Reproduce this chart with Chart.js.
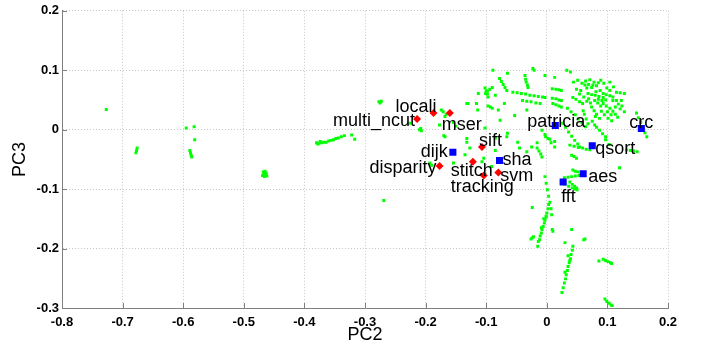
<!DOCTYPE html>
<html>
<head>
<meta charset="utf-8">
<title>PC2 vs PC3</title>
<script src="https://cdn.jsdelivr.net/npm/chart.js@4/dist/chart.umd.min.js"></script>
<style>
  html, body { margin: 0; padding: 0; background: #fff; }
  #wrap { width: 701px; height: 352px; }
</style>
</head>
<body>
<div id="wrap"><canvas id="pcaChart" width="701" height="352"></canvas></div>
<script>
// Labelled benchmarks (red diamonds)
const redNames = ['locali', 'mser', 'multi_ncut', 'sift', 'disparity', 'stitch', 'tracking', 'svm'];
const redPC2 = [-0.187, -0.160, -0.214, -0.107, -0.177, -0.122, -0.104, -0.080];
const redPC3 = [0.028, 0.028, 0.018, -0.029, -0.061, -0.054, -0.077, -0.072];

// Labelled benchmarks (blue squares)
const blueNames = ['dijk', 'sha', 'patricia', 'crc', 'qsort', 'aes', 'fft'];
const bluePC2 = [-0.155, -0.078, 0.014, 0.156, 0.075, 0.060, 0.027];
const bluePC3 = [-0.038, -0.052, 0.007, 0.002, -0.027, -0.074, -0.088];

// Unlabelled samples, [PC2, PC3], grouped by area
const farClusters = [
    [-0.727, 0.034],
    [-0.676, -0.031], [-0.677, -0.035], [-0.678, -0.039],
    [-0.589, -0.035], [-0.588, -0.039], [-0.587, -0.043], [-0.586, -0.046],
    [-0.595, 0.003], [-0.582, 0.005], [-0.581, -0.017],
    [-0.468, -0.071], [-0.465, -0.070], [-0.463, -0.073], [-0.467, -0.075],
    [-0.464, -0.076], [-0.466, -0.079], [-0.462, -0.078], [-0.469, -0.077],
    [-0.380, -0.022], [-0.378, -0.024], [-0.376, -0.023], [-0.374, -0.020],
    [-0.372, -0.022], [-0.368, -0.021], [-0.364, -0.021], [-0.360, -0.019],
    [-0.356, -0.018], [-0.352, -0.017], [-0.348, -0.015], [-0.344, -0.014],
    [-0.339, -0.012], [-0.334, -0.010], [-0.322, -0.009], [-0.317, -0.016]
];

const midPoints = [
    [-0.277, 0.047], [-0.273, 0.048], [-0.275, 0.045], [-0.269, -0.119],
    [-0.174, 0.033], [-0.171, 0.030], [-0.168, 0.022], [-0.166, 0.026],
    [-0.226, 0.011], [-0.210, 0.000], [-0.207, -0.002], [-0.208, 0.002],
    [-0.177, 0.008], [-0.168, -0.012], [-0.170, -0.010],
    [-0.154, 0.012], [-0.150, 0.006],
    [-0.132, -0.015], [-0.135, -0.042], [-0.154, -0.056], [-0.193, -0.056],
    [-0.190, -0.060], [-0.127, -0.031], [-0.132, 0.044], [-0.116, 0.044]
];

const upperCore = [
    [-0.101, 0.061], [-0.098, 0.065], [-0.094, 0.068], [-0.090, 0.071],
    [-0.023, 0.103], [-0.021, 0.100], [-0.089, 0.100], [-0.065, 0.095],
    [-0.036, 0.091], [-0.035, 0.085], [-0.034, 0.080], [-0.032, 0.075], [-0.031, 0.071],
    [-0.078, 0.086], [-0.075, 0.081], [-0.072, 0.076], [-0.069, 0.071], [-0.066, 0.066],
    [-0.102, 0.070], [-0.100, 0.065], [-0.098, 0.060], [-0.097, 0.055],
    [-0.056, 0.063], [-0.049, 0.062], [-0.042, 0.061], [-0.035, 0.060], [-0.028, 0.058],
    [-0.021, 0.057], [-0.014, 0.056], [-0.007, 0.055], [-0.003, 0.054],
    [-0.113, 0.061], [-0.085, 0.058],
    [0.009, 0.069], [0.015, 0.068], [0.020, 0.067], [0.024, 0.066],
    [-0.003, 0.091], [0.013, 0.088],
    [-0.040, 0.049], [-0.033, 0.048], [-0.026, 0.047], [-0.018, 0.045], [-0.011, 0.044],
    [-0.070, 0.044], [-0.097, 0.040], [-0.093, 0.038], [-0.090, 0.036],
    [0.009, 0.053], [0.015, 0.052], [0.020, 0.050], [0.024, 0.049],
    [0.010, 0.044], [0.015, 0.042], [0.020, 0.040], [0.024, 0.038],
    [-0.080, 0.033], [-0.033, 0.033], [-0.053, 0.024], [-0.114, 0.033],
    [-0.077, 0.016], [-0.102, 0.003], [-0.065, -0.006], [-0.085, -0.014],
    [-0.048, -0.021], [-0.016, -0.022],
    [-0.008, -0.001], [-0.003, -0.008], [0.002, -0.015], [0.007, -0.022], [0.013, -0.029],
    [-0.002, -0.012], [0.005, -0.016], [0.013, -0.020],
    [-0.130, 0.044], [-0.132, -0.021], [-0.025, -0.029],
    [-0.066, -0.012], [-0.085, -0.035], [-0.107, -0.054], [-0.091, -0.062], [-0.104, -0.048]
];

const rightBlob = [
    [0.033, 0.100], [0.039, 0.097],
    [0.063, 0.075], [0.069, 0.076], [0.076, 0.075], [0.082, 0.074], [0.066, 0.070], [0.074, 0.071],
    [0.068, 0.061], [0.074, 0.059], [0.080, 0.058], [0.086, 0.056], [0.093, 0.054],
    [0.043, 0.054], [0.048, 0.051], [0.054, 0.047], [0.059, 0.044],
    [0.093, 0.061], [0.098, 0.059], [0.104, 0.057], [0.109, 0.055],
    [0.115, 0.063], [0.121, 0.062], [0.128, 0.061],
    [0.109, 0.049], [0.115, 0.049], [0.123, 0.049],
    [0.093, 0.044], [0.098, 0.040], [0.104, 0.036], [0.109, 0.031], [0.113, 0.026],
    [0.117, 0.021], [0.100, 0.030], [0.106, 0.025],
    [0.074, 0.038], [0.078, 0.032], [0.082, 0.026], [0.087, 0.019], [0.080, 0.022],
    [0.060, 0.032], [0.062, 0.026], [0.065, 0.018], [0.068, 0.010], [0.064, 0.005],
    [0.026, 0.011], [0.031, 0.004], [0.036, -0.004], [0.041, -0.011], [0.046, -0.018],
    [0.051, -0.024], [0.054, -0.029],
    [0.082, 0.004], [0.087, -0.001], [0.092, -0.007], [0.097, -0.012],
    [0.148, 0.028], [0.151, 0.020], [0.155, 0.012], [0.159, 0.003], [0.162, -0.005], [0.165, -0.012],
    [0.097, -0.017], [0.103, -0.025],
    [0.044, 0.080], [0.051, 0.083], [0.056, 0.066], [0.049, 0.068], [0.089, 0.083],
    [0.094, 0.078], [0.104, 0.080], [0.110, 0.072], [0.084, 0.045], [0.089, 0.040],
    [0.121, 0.035], [0.128, 0.030], [0.069, 0.052], [0.054, 0.060],
    [0.058, 0.078], [0.064, 0.082], [0.071, 0.084], [0.078, 0.080], [0.085, 0.079],
    [0.099, 0.070], [0.104, 0.066], [0.088, 0.066], [0.081, 0.064], [0.061, 0.055],
    [0.066, 0.048], [0.072, 0.045], [0.079, 0.049], [0.085, 0.051], [0.091, 0.049],
    [0.097, 0.050], [0.118, 0.043], [0.124, 0.040], [0.113, 0.038], [0.090, 0.031],
    [0.095, 0.025], [0.101, 0.019], [0.107, 0.015], [0.075, 0.014], [0.079, 0.008],
    [0.058, 0.012], [0.052, 0.018], [0.047, 0.025], [0.040, 0.030], [0.034, 0.036]
];

const lowerCore = [
    [-0.016, -0.031], [-0.013, -0.036], [-0.010, -0.041], [-0.008, -0.046],
    [-0.033, -0.037], [-0.045, -0.031],
    [-0.003, -0.079], [-0.001, -0.090], [0.001, -0.101], [0.003, -0.112],
    [0.005, -0.122], [0.007, -0.133], [0.008, -0.143], [-0.024, -0.131],
    [0.038, -0.026], [0.045, -0.028], [0.052, -0.030], [0.059, -0.031], [0.065, -0.033], [0.071, -0.034],
    [0.041, -0.043], [0.045, -0.045], [0.049, -0.048],
    [0.120, -0.064],
    [0.132, -0.034], [0.138, -0.035], [0.143, -0.036], [0.149, -0.037],
    [0.029, -0.081], [0.035, -0.080], [0.041, -0.079], [0.047, -0.078], [0.053, -0.077], [0.059, -0.076],
    [0.043, -0.068], [0.047, -0.070], [0.051, -0.071],
    [0.038, -0.088], [0.042, -0.092], [0.046, -0.095], [0.049, -0.098],
    [0.024, -0.089], [0.030, -0.092], [0.036, -0.095], [0.042, -0.098], [0.047, -0.100], [0.050, -0.101]
];

const lowerStreaks = [
    [0.003, -0.126], [0.002, -0.133], [0.000, -0.140], [-0.001, -0.147], [-0.003, -0.152],
    [-0.004, -0.157], [-0.006, -0.163], [-0.008, -0.168], [-0.009, -0.174], [-0.011, -0.179],
    [-0.012, -0.185], [-0.014, -0.188], [-0.005, -0.150], [-0.001, -0.145], [-0.009, -0.165],
    [-0.024, -0.182], [-0.026, -0.184], [-0.022, -0.180], [-0.015, -0.196],
    [0.009, -0.168], [0.010, -0.171], [0.041, -0.168], [0.061, -0.185], [0.063, -0.184],
    [0.043, -0.196], [0.042, -0.203], [0.040, -0.210], [0.039, -0.217], [0.037, -0.224],
    [0.035, -0.230], [0.034, -0.237], [0.032, -0.244], [0.031, -0.251], [0.029, -0.258],
    [0.027, -0.266], [0.025, -0.274], [0.038, -0.220], [0.035, -0.212], [0.030, -0.240],
    [0.030, -0.190], [0.086, -0.221],
    [0.093, -0.218], [0.097, -0.220], [0.101, -0.222], [0.105, -0.224], [0.107, -0.225],
    [0.096, -0.285], [0.099, -0.289], [0.103, -0.292], [0.106, -0.295], [0.108, -0.296]
];

// Where each benchmark name sits relative to its marker: [dx, dy to baseline, align]
const labelPlacement = {
    locali: [3, -1, 'right'],
    mser: [-8, 17, 'left'],
    multi_ncut: [-2, 7, 'right'],
    sift: [-3, -1, 'left'],
    disparity: [-3, 7, 'right'],
    stitch: [-22, 14, 'left'],
    tracking: [-33, 17, 'left'],
    svm: [2, 9, 'left'],
    dijk: [-5, 5, 'right'],
    sha: [3, 4, 'left'],
    patricia: [-28, 1, 'left'],
    crc: [-12, 0, 'left'],
    qsort: [3, 8, 'left'],
    aes: [5, 8, 'left'],
    fft: [-2, 20, 'left']
};

const FONT = '"Liberation Sans", Arial, Helvetica, sans-serif';
const AXIS_GRAY = '#808080';

const toPoints = (xs, ys) => xs.map((x, i) => ({ x: x, y: ys[i] }));
const otherPoints = [].concat(farClusters, midPoints, upperCore, rightBlob, lowerCore, lowerStreaks)
    .map(p => ({ x: p[0], y: p[1] }));

// Small tick marks pointing into the plot, like the axes of the original figure
const inwardTicks = {
    id: 'inwardTicks',
    beforeDatasetsDraw(chart) {
        const { ctx, chartArea: a, scales: { x, y } } = chart;
        ctx.save();
        ctx.strokeStyle = AXIS_GRAY;
        ctx.lineWidth = 1;
        ctx.beginPath();
        x.ticks.forEach(t => {
            const px = Math.round(x.getPixelForValue(t.value)) + 0.5;
            ctx.moveTo(px, a.bottom);
            ctx.lineTo(px, a.bottom - 5);
        });
        y.ticks.forEach(t => {
            const py = Math.round(y.getPixelForValue(t.value)) + 0.5;
            ctx.moveTo(a.left, py);
            ctx.lineTo(a.left + 5, py);
        });
        ctx.stroke();
        ctx.restore();
    }
};

// Benchmark names next to the red and blue markers
const benchmarkLabels = {
    id: 'benchmarkLabels',
    afterDatasetsDraw(chart) {
        const ctx = chart.ctx;
        ctx.save();
        ctx.font = '18px ' + FONT;
        ctx.fillStyle = '#000';
        ctx.textBaseline = 'alphabetic';
        [[0, redNames], [1, blueNames]].forEach(([idx, names]) => {
            const meta = chart.getDatasetMeta(idx);
            meta.data.forEach((el, i) => {
                const place = labelPlacement[names[i]];
                ctx.textAlign = place[2];
                ctx.fillText(names[i], el.x + place[0], el.y + place[1]);
            });
        });
        ctx.restore();
    }
};

const tickFont = { family: FONT, size: 13, weight: 'bold' };

new Chart(document.getElementById('pcaChart'), {
    type: 'scatter',
    data: {
        datasets: [
            {
                label: 'red',
                data: toPoints(redPC2, redPC3),
                pointStyle: 'rectRot',
                radius: 4,
                backgroundColor: '#ff0000',
                borderWidth: 0,
                order: 0
            },
            {
                label: 'blue',
                data: toPoints(bluePC2, bluePC3),
                pointStyle: 'rect',
                radius: 5,
                backgroundColor: '#0000ff',
                borderWidth: 0,
                order: 0
            },
            {
                label: 'other',
                data: otherPoints,
                pointStyle: 'rect',
                radius: 2.1,
                backgroundColor: '#00ff00',
                borderWidth: 0,
                order: 2
            }
        ]
    },
    options: {
        responsive: false,
        animation: false,
        layout: { padding: { top: 10, right: 33, left: 0, bottom: 0 } },
        plugins: {
            legend: { display: false },
            tooltip: { enabled: false }
        },
        scales: {
            x: {
                type: 'linear',
                min: -0.8,
                max: 0.2,
                ticks: { stepSize: 0.1, color: '#000', font: tickFont, padding: 7, maxRotation: 0, autoSkip: false },
                grid: { color: '#c8c8c8', drawTicks: false },
                border: { color: AXIS_GRAY, width: 1, dash: [1, 2] },
                title: { display: true, text: 'PC2', color: '#000', font: { family: FONT, size: 18 }, padding: { top: 0, bottom: 6 } },
                afterFit: (scale) => { scale.height = 44; }
            },
            y: {
                type: 'linear',
                min: -0.3,
                max: 0.2,
                ticks: { stepSize: 0.1, color: '#000', font: tickFont, padding: 3, autoSkip: false },
                grid: { color: '#c8c8c8', drawTicks: false },
                border: { color: AXIS_GRAY, width: 1, dash: [1, 2] },
                title: { display: true, text: 'PC3', color: '#000', font: { family: FONT, size: 18 }, padding: { top: 9, bottom: 0 } },
                afterFit: (scale) => { scale.width = 62; }
            }
        }
    },
    plugins: [inwardTicks, benchmarkLabels]
});
</script>
</body>
</html>
